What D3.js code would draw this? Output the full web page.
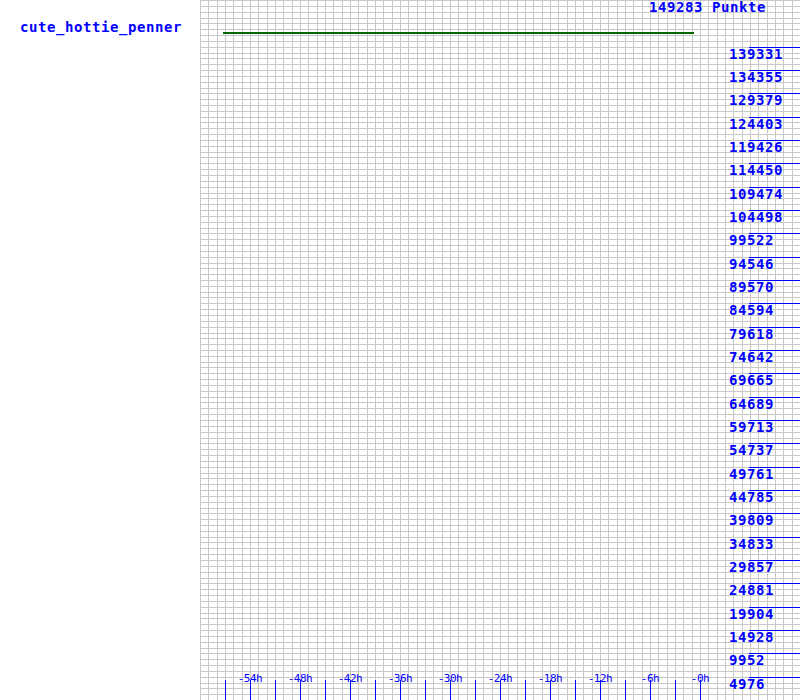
<!DOCTYPE html>
<html><head><meta charset="utf-8">
<script src="https://cdn.jsdelivr.net/npm/d3@7"></script>
<style>
html,body{margin:0;padding:0;background:#fff;}
svg{display:block;}
</style></head>
<body>
<script>
const playerName = "cute_hottie_penner";
const totalPoints = 149283;
const titleText = "149283 Punkte";
const pointHours = [-57.25, -0.75];
const pointValues = [149283, 149283];
const yTickLabels = [4976, 9952, 14928, 19904, 24881, 29857, 34833, 39809, 44785, 49761, 54737, 59713, 64689, 69665, 74642, 79618, 84594, 89570, 94546, 99522, 104498, 109474, 114450, 119426, 124403, 129379, 134355, 139331];
const xTickHours = [-57, -54, -51, -48, -45, -42, -39, -36, -33, -30, -27, -24, -21, -18, -15, -12, -9, -6, -3, 0];
const xTickLabels = ["-54h", "-48h", "-42h", "-36h", "-30h", "-24h", "-18h", "-12h", "-6h", "-0h"];
const xLabelHours = [-54, -48, -42, -36, -30, -24, -18, -12, -6, 0];

const W = 800, H = 700;
const svg = d3.select("body").append("svg").attr("width", W).attr("height", H);
svg.append("rect").attr("width", W).attr("height", H).attr("fill", "#fff");

const x = d3.scaleLinear().domain([-60, 12]).range([200, 800]);
const y = d3.scaleLinear().domain([0, totalPoints]).range([700, 0]);
const yLine = d3.scaleLinear().domain([0, totalPoints]).range([700, 33]);

const px = v => Math.round(v) + 0.5;
const grid = svg.append("g").attr("stroke", "#c8c8c8").attr("stroke-width", 1).attr("shape-rendering", "crispEdges");
d3.range(-60, 12).forEach(h => {
  grid.append("line").attr("x1", px(x(h))).attr("x2", px(x(h))).attr("y1", 0).attr("y2", H);
});
d3.range(1, 121).forEach(k => {
  const v = k * totalPoints / 120;
  grid.append("line").attr("x1", 200).attr("x2", W).attr("y1", px(y(v))).attr("y2", px(y(v)));
});

const data = pointHours.map((h, i) => ({h, v: pointValues[i]}));
svg.append("path").datum(data)
  .attr("fill", "none").attr("stroke", "rgb(0,100,0)").attr("stroke-width", 2)
  .attr("shape-rendering", "crispEdges")
  .attr("d", d3.line().x(d => x(d.h)).y(d => yLine(d.v)));

const blue = "#0000ff";
const big = {family: "'DejaVu Sans Mono', monospace", size: "14px", weight: "bold", spacing: "0.57px"};

const ra = svg.append("g");
yTickLabels.forEach(v => {
  ra.append("line").attr("x1", 749).attr("x2", W).attr("y1", px(y(v))).attr("y2", px(y(v)))
    .attr("stroke", blue).attr("shape-rendering", "crispEdges");
  ra.append("text").attr("x", 729).attr("y", Math.round(y(v)) + 12)
    .attr("fill", blue).attr("font-family", big.family).attr("font-size", big.size)
    .attr("font-weight", big.weight).attr("letter-spacing", big.spacing).text(v);
});

const ba = svg.append("g");
xTickHours.forEach(h => {
  ba.append("line").attr("x1", px(x(h))).attr("x2", px(x(h))).attr("y1", 680).attr("y2", H)
    .attr("stroke", blue).attr("shape-rendering", "crispEdges");
});
xLabelHours.forEach((h, i) => {
  ba.append("text").attr("x", x(h)).attr("y", 682).attr("text-anchor", "middle")
    .attr("fill", blue).attr("font-family", "'DejaVu Sans Mono', monospace").attr("font-size", "11px")
    .attr("letter-spacing", "-0.5px").text(xTickLabels[i]);
});

svg.append("text").attr("x", 20).attr("y", 32).attr("fill", blue)
  .attr("font-family", big.family).attr("font-size", big.size).attr("font-weight", big.weight)
  .attr("letter-spacing", big.spacing).text(playerName);
svg.append("text").attr("x", 649).attr("y", 12).attr("fill", blue)
  .attr("font-family", big.family).attr("font-size", big.size).attr("font-weight", big.weight)
  .attr("letter-spacing", big.spacing).text(titleText);
</script>
</body></html>
